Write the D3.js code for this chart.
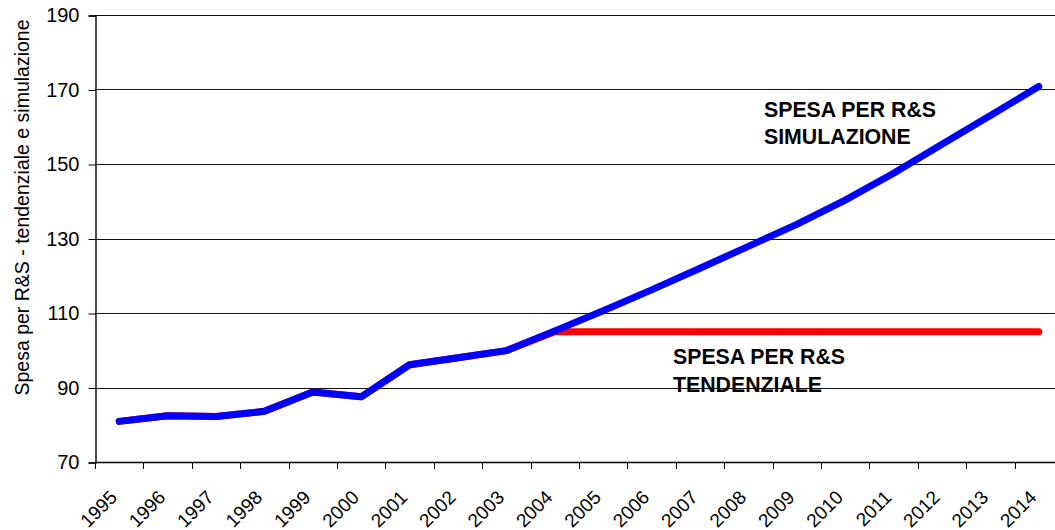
<!DOCTYPE html>
<html>
<head>
<meta charset="utf-8">
<script src="https://cdn.jsdelivr.net/npm/d3@7"></script>
<style>
  html, body { margin: 0; padding: 0; background: #fff; }
  svg { display: block; font-family: Arial, "Liberation Sans", sans-serif; }
</style>
</head>
<body>
<svg id="chart" width="1055" height="530"></svg>
<script>
const years = ["1995","1996","1997","1998","1999","2000","2001","2002","2003","2004",
               "2005","2006","2007","2008","2009","2010","2011","2012","2013","2014"];
const simulazione = [80.9, 82.4, 82.2, 83.6, 88.8, 87.5, 96.1, 98.0, 99.9, 105.2,
                     110.6, 116.2, 122.0, 127.9, 133.8, 140.3, 147.5, 155.3, 163.0, 170.8];
const tendenziale = [80.9, 82.4, 82.2, 83.6, 88.8, 87.5, 96.1, 98.0, 99.9, 105.0,
                     105.0, 105.0, 105.0, 105.0, 105.0, 105.0, 105.0, 105.0, 105.0, 105.0];
const yTicks = [70, 90, 110, 130, 150, 170, 190];
const yTitle = "Spesa per R&S - tendenziale e simulazione";
const labelSim = ["SPESA PER R&S", "SIMULAZIONE"];
const labelTend = ["SPESA PER R&S", "TENDENZIALE"];

(function () {
const svg = d3.select("#chart");
const pLeft = 95, pTop = 15, pBottom = 462, catW = 48.4;
const pRight = pLeft + catW * years.length;

const x = d3.scaleBand().domain(years).range([pLeft, pRight]).padding(0);
const y = d3.scaleLinear().domain([70, 190]).range([pBottom, pTop]);

// gridlines
svg.append("g").selectAll("line").data(yTicks.filter(v => v > 70)).join("line")
  .attr("x1", pLeft).attr("x2", pRight)
  .attr("y1", d => Math.round(y(d)) + 0.5).attr("y2", d => Math.round(y(d)) + 0.5)
  .attr("stroke", "#111").attr("stroke-width", 1.1);

// y axis
const yAxis = d3.axisLeft(y).tickValues(yTicks).tickSize(7).tickPadding(9).tickFormat(d3.format("d"));
const gy = svg.append("g").attr("transform", `translate(${pLeft + 0.5},0.5)`).call(yAxis);
gy.select(".domain").attr("stroke", "#000").attr("stroke-width", 1.4);
gy.selectAll(".tick line").attr("stroke", "#000");
gy.selectAll(".tick text").attr("font-size", 20).attr("fill", "#000")
  .attr("font-family", "Arial, 'Liberation Sans', sans-serif");

// x axis line + ticks at category boundaries
svg.append("line").attr("x1", pLeft).attr("x2", pRight)
  .attr("y1", Math.round(y(70)) + 0.5).attr("y2", Math.round(y(70)) + 0.5)
  .attr("stroke", "#000").attr("stroke-width", 1.4);
const bounds = years.map(d => x(d)).concat([pRight]);
svg.append("g").selectAll("line").data(bounds).join("line")
  .attr("x1", d => Math.round(d) + 0.5).attr("x2", d => Math.round(d) + 0.5)
  .attr("y1", pBottom).attr("y2", pBottom + 7)
  .attr("stroke", "#000").attr("stroke-width", 1);

// x labels
svg.append("g").selectAll("text").data(years).join("text")
  .attr("transform", d => `translate(${x(d) + x.bandwidth() / 2 - 1},${498.5}) rotate(-45)`)
  .attr("text-anchor", "end")
  .attr("font-size", 19).attr("fill", "#000")
  .text(d => d);

// y title
svg.append("text")
  .attr("transform", `translate(29,${207.5}) rotate(-90)`)
  .attr("text-anchor", "middle")
  .attr("font-size", 19.5).attr("fill", "#000")
  .text(yTitle);

// lines
const line = d3.line().x((d, i) => x(years[i]) + x.bandwidth() / 2).y(d => y(d));
svg.append("path").datum(tendenziale).attr("d", line)
  .attr("fill", "none").attr("stroke", "#ff0000").attr("stroke-width", 7)
  .attr("stroke-linecap", "round").attr("stroke-linejoin", "round");
svg.append("path").datum(simulazione).attr("d", line)
  .attr("fill", "none").attr("stroke", "#0000ff").attr("stroke-width", 7)
  .attr("stroke-linecap", "round").attr("stroke-linejoin", "round");

// annotations
function label(lines, x0, y0) {
  const t = svg.append("text").attr("font-size", 21.3).attr("font-weight", "bold").attr("fill", "#000");
  lines.forEach((s, i) => t.append("tspan").attr("x", x0).attr("y", y0 + i * 27.6).text(s));
}
label(labelSim, 764, 116.7);
label(labelTend, 673, 364.3);
})();
</script>
</body>
</html>
